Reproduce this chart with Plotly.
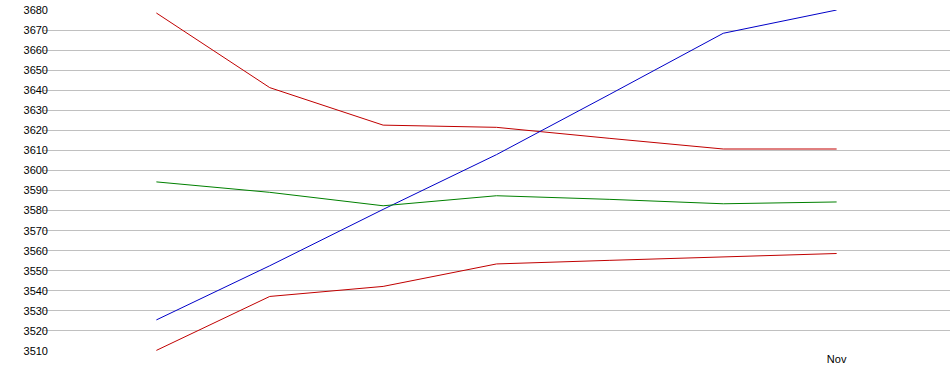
import plotly.graph_objects as go

dates = ["2021-10-26", "2021-10-27", "2021-10-28", "2021-10-29",
         "2021-10-30", "2021-10-31", "2021-11-01"]
red_top = [3678.5, 3641.3, 3622.6, 3621.5, 3616.0, 3610.7, 3610.7]
blue = [3525.5, 3552.5, 3580.6, 3607.9, 3638.0, 3668.4, 3680.0]
green = [3594.3, 3589.1, 3582.4, 3587.4, 3585.6, 3583.4, 3584.3]
red_bottom = [3510.3, 3537.2, 3542.2, 3553.4, 3555.2, 3556.8, 3558.6]

x_range = ["2021-10-25", "2021-11-02"]
y_ticks = list(range(3510, 3681, 10))
x_tickvals = ["2021-11-01"]
x_ticktext = ["Nov"]

fig = go.Figure()
series = [
    (red_top, "#C00000"),
    (blue, "#0000C8"),
    (green, "#008000"),
    (red_bottom, "#C00000"),
]
for vals, col in series:
    fig.add_trace(go.Scatter(x=dates, y=vals, mode="lines",
                             line=dict(color=col, width=1),
                             showlegend=False, hoverinfo="skip",
                             cliponaxis=False))

fig.update_layout(
    width=950, height=375,
    margin=dict(l=43, r=0, t=10, b=24, autoexpand=False),
    paper_bgcolor="white", plot_bgcolor="white",
    font=dict(family="Arial, Liberation Sans", size=11, color="#000000"),
    xaxis=dict(type="date", range=x_range, showgrid=False, zeroline=False,
               showline=False, tickvals=x_tickvals, ticktext=x_ticktext,
               ticks="", ticklen=0, tickfont=dict(size=11, color="#000000")),
    yaxis=dict(range=[3510, 3680], tickvals=y_ticks, showgrid=True,
               gridcolor="#C0C0C0", gridwidth=1, zeroline=False,
               showline=False, ticks="", ticklen=0,
               ticklabeloverflow="allow", ticklabelstandoff=-6,
               tickfont=dict(size=11, color="#000000")),
)
fig.write_html("out.html",
               config={"displayModeBar": False, "staticPlot": True},
               post_script="document.body.style.margin='0px';")
